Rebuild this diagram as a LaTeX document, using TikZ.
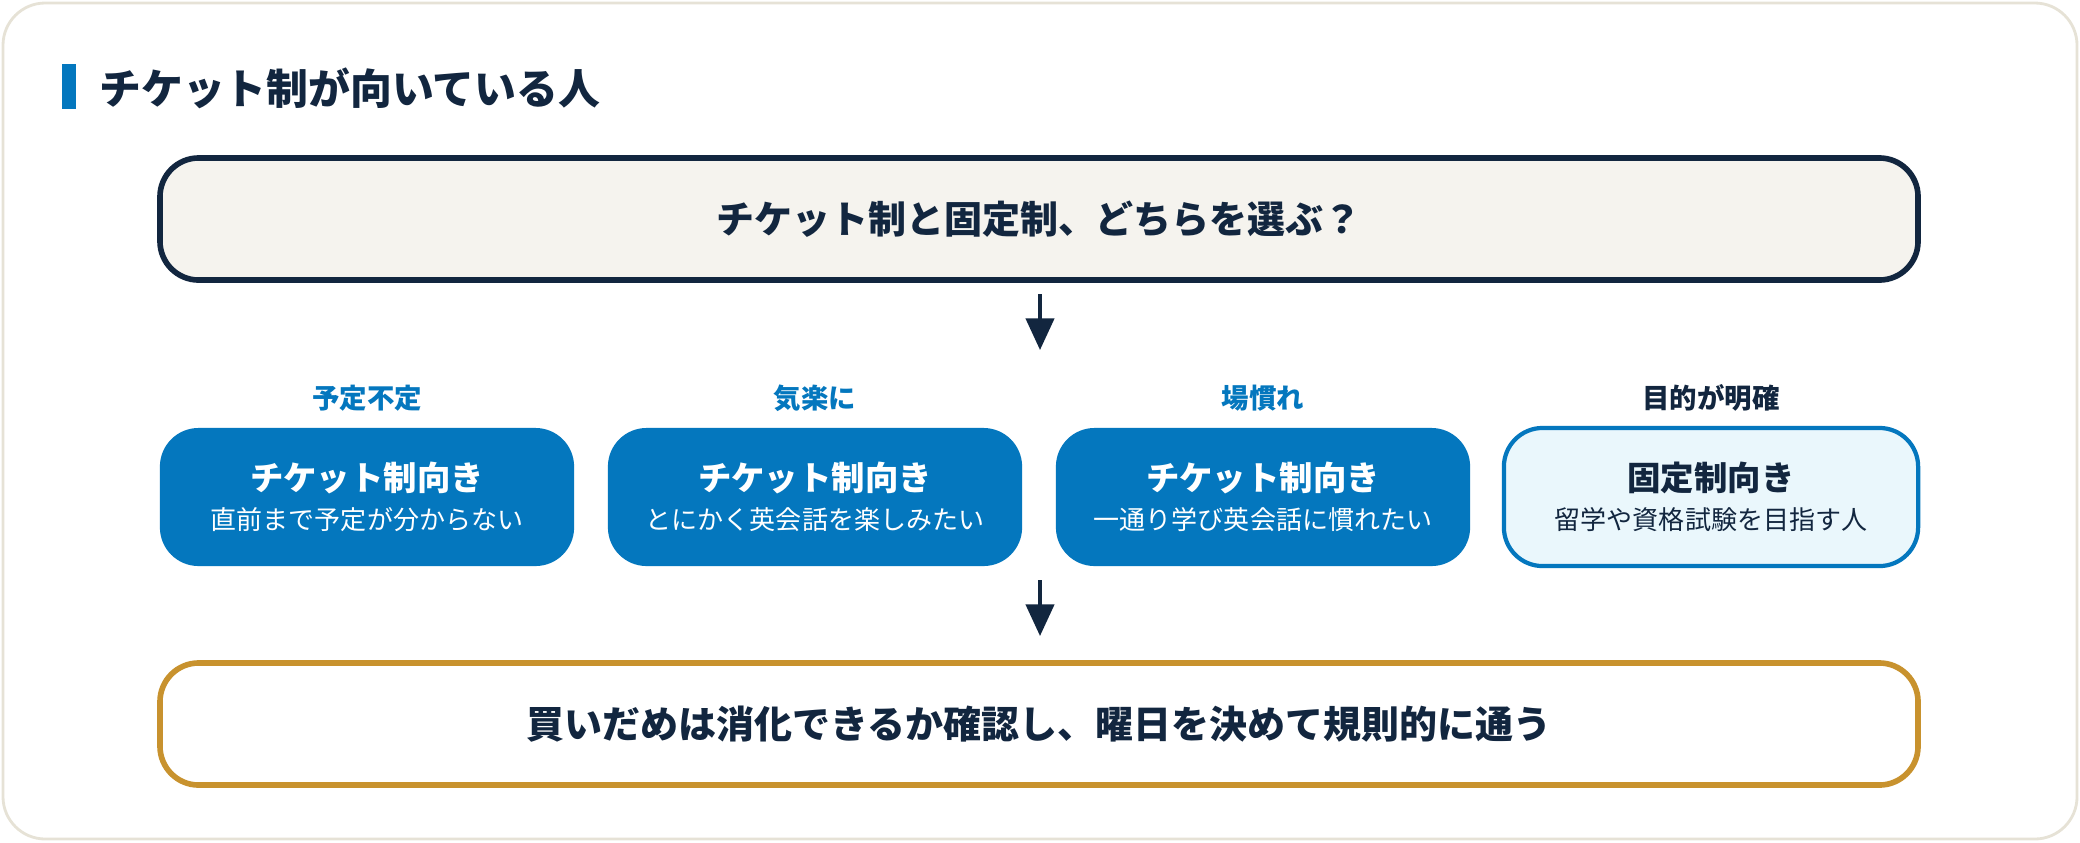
\documentclass[tikz,border=0pt]{standalone}
\usepackage{fontspec}
\setmainfont{Noto Sans CJK JP}
\usetikzlibrary{positioning,arrows.meta}
\definecolor{navy}{HTML}{12263F}
\definecolor{tblue}{HTML}{0477BE}
\definecolor{pale}{HTML}{F5F3EE}
\definecolor{ice}{HTML}{EAF7FC}
\definecolor{gold}{HTML}{C8922E}
\definecolor{frame}{HTML}{E6E2D6}
\tikzset{
  wide/.style={draw=navy, line width=1.6pt, rounded corners=11pt, minimum width=17.57cm, minimum height=1.22cm, font=\fontsize{10.8pt}{13pt}\selectfont\bfseries, text=navy},
  pick/.style={fill=tblue, rounded corners=11pt, minimum width=4.14cm, minimum height=1.38cm, text=white, align=center},
  tag/.style={font=\fontsize{7.8pt}{9pt}\selectfont\bfseries, text=tblue},
  down/.style={-{Triangle[width=8pt,length=9pt]}, line width=1.1pt, draw=navy}
}
\newcommand{\choice}[2]{{\fontsize{9.5pt}{12pt}\selectfont\bfseries #1}\\[-1pt]{\fontsize{7.4pt}{10pt}\selectfont #2}}
\begin{document}
\begin{tikzpicture}[x=0.01cm,y=-0.01cm]
  \useasboundingbox (0,0) rectangle (2080,842);
  \draw[frame, fill=white, line width=0.8pt, rounded corners=12pt] (3,3) rectangle (2077,839);
  \fill[tblue] (62,64) rectangle (76,109);
  \node[anchor=west, text=navy, font=\fontsize{11.9pt}{14pt}\selectfont\bfseries] (title) at (87,88) {チケット制が向いている人};

  % question
  \node[wide, fill=pale] (ask) at (1039,219) {チケット制と固定制、どちらを選ぶ？};

  % four choices
  \node[pick] (c1) at (367,497) {\choice{チケット制向き}{直前まで予定が分からない}};
  \node[pick] (c2) at (815,497) {\choice{チケット制向き}{とにかく英会話を楽しみたい}};
  \node[pick] (c3) at (1263,497) {\choice{チケット制向き}{一通り学び英会話に慣れたい}};
  \node[pick, fill=ice, draw=tblue, line width=1.2pt, text=navy] (c4) at (1711,497) {\choice{固定制向き}{留学や資格試験を目指す人}};
  \node[tag] (t1) at (367,398) {予定不定};
  \node[tag] (t2) at (815,398) {気楽に};
  \node[tag] (t3) at (1263,398) {場慣れ};
  \node[tag, text=navy] (t4) at (1711,398) {目的が明確};

  % advice
  \node[wide, draw=gold, fill=white] (tip) at (1039,724) {買いだめは消化できるか確認し、曜日を決めて規則的に通う};

  \coordinate (a1) at (1040,294);
  \coordinate (a2) at (1040,350);
  \coordinate (b1) at (1040,580);
  \coordinate (b2) at (1040,636);
  \draw[down] (a1) -- (a2);
  \draw[down] (b1) -- (b2);
\end{tikzpicture}
\end{document}
